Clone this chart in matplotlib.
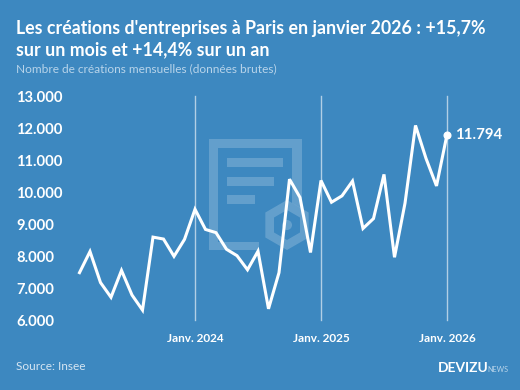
import matplotlib
matplotlib.use("Agg")
import matplotlib.pyplot as plt
from matplotlib.patches import Polygon, Rectangle, Circle
from matplotlib.ticker import FuncFormatter
import math

W, H = 520, 390
BG = "#3d88c0"

# monthly values, Feb 2023 -> Jan 2026
creations = [7480, 8140, 7170, 6710, 7550, 6780, 6310, 8590, 8530, 7990, 8520, 9460,
             8830, 8730, 8210, 8010, 7570, 8150, 6350, 7480, 10400, 9830, 8110, 10360,
             9680, 9880, 10340, 8860, 9170, 10550, 7960, 9650, 12080, 11050, 10190, 11794]
month_idx = list(range(len(creations)))
jan_idx = [11, 23, 35]
jan_labels = ["Janv. 2024", "Janv. 2025", "Janv. 2026"]
y_ticks = [6000, 7000, 8000, 9000, 10000, 11000, 12000, 13000]

title = "Les créations d'entreprises à Paris en janvier 2026 : +15,7%\nsur un mois et +14,4% sur un an"
subtitle = "Nombre de créations mensuelles (données brutes)"

plt.rcParams["font.family"] = ["Lato", "DejaVu Sans"]

fig = plt.figure(figsize=(W / 100, H / 100), dpi=100, facecolor=BG)

# background layer in pixel coords, for the watermark
bg = fig.add_axes([0, 0, 1, 1])
bg.set_xlim(0, W)
bg.set_ylim(H, 0)
bg.axis("off")
mark = dict(color="white", alpha=0.2, lw=0)
bg.add_patch(Rectangle((209, 139), 93, 9, **mark))
bg.add_patch(Rectangle((209, 148), 9, 102, **mark))
bg.add_patch(Rectangle((218, 242), 41, 8, **mark))
bg.add_patch(Polygon([(292, 148), (302, 148), (302, 209), (292, 203)], closed=True, **mark))
for y0, w in [(158, 56), (177, 47), (195, 28)]:
    bg.add_patch(Rectangle((227, y0), w, 9, **mark))
hexa = [(287 + 25 * math.sin(a * math.pi / 3), 225 - 25 * math.cos(a * math.pi / 3)) for a in range(6)]
inner = [(287 + 15 * math.sin(a * math.pi / 3), 225 - 15 * math.cos(a * math.pi / 3)) for a in range(6)]
bg.add_patch(Polygon(hexa + hexa[:1] + inner[:1] + inner[::-1], closed=True, **mark))
bg.add_patch(Circle((287, 225), 5, **mark))

ax = fig.add_axes([79.5 / W, 1 - 320 / H, (447 - 79.5) / W, (320 - 96) / H])
ax.patch.set_alpha(0)
ax.set_xlim(0, 35)
ax.set_ylim(6000, 13000)
for s in ax.spines.values():
    s.set_visible(False)

for j in jan_idx:
    ax.axvline(j, color="white", alpha=0.6, lw=1, clip_on=False)
ax.plot(month_idx, creations, color="white", lw=2.2, solid_joinstyle="miter", clip_on=False, zorder=3)
ax.plot(month_idx[-1], creations[-1], "o", color="white", ms=4.8, clip_on=False, zorder=4)
ax.annotate("11.794", (month_idx[-1], creations[-1]), xytext=(5.5, 0), textcoords="offset points",
            color="white", fontsize=10.8, fontweight="bold", va="center", annotation_clip=False)

ax.set_yticks(y_ticks)
ax.yaxis.set_major_formatter(FuncFormatter(lambda v, p: f"{int(v):,}".replace(",", ".")))
ax.tick_params(axis="y", length=0, pad=(79.5 - 16) * 0.72, labelcolor="white", labelsize=10.6)
for t in ax.get_yticklabels():
    t.set_ha("left")
    t.set_fontweight("bold")

ax.set_xticks(jan_idx)
ax.set_xticklabels(jan_labels, fontsize=8.5, fontweight="bold", color="white")
ax.tick_params(axis="x", length=0, pad=9)

fig.text(16 / W, 1 - 39 / H, title, color="white", fontsize=12.8, fontweight="bold", va="center", linespacing=1.35)
fig.text(16 / W, 1 - 68.5 / H, subtitle, color="#b8d4ea", fontsize=8.6, va="center")
fig.text(16 / W, 1 - 366 / H, "Source: Insee", color="#d5e5f2", fontsize=8.6, va="center")
fig.text(438 / W, 1 - 368 / H, "DEVIZU", color="white", fontsize=9.9, fontweight="bold", va="center")
fig.text(487 / W, 1 - 370 / H, "NEWS", color="#b8d4ea", fontsize=5.2, va="center")

fig.savefig("out.png", dpi=100, facecolor=BG)
